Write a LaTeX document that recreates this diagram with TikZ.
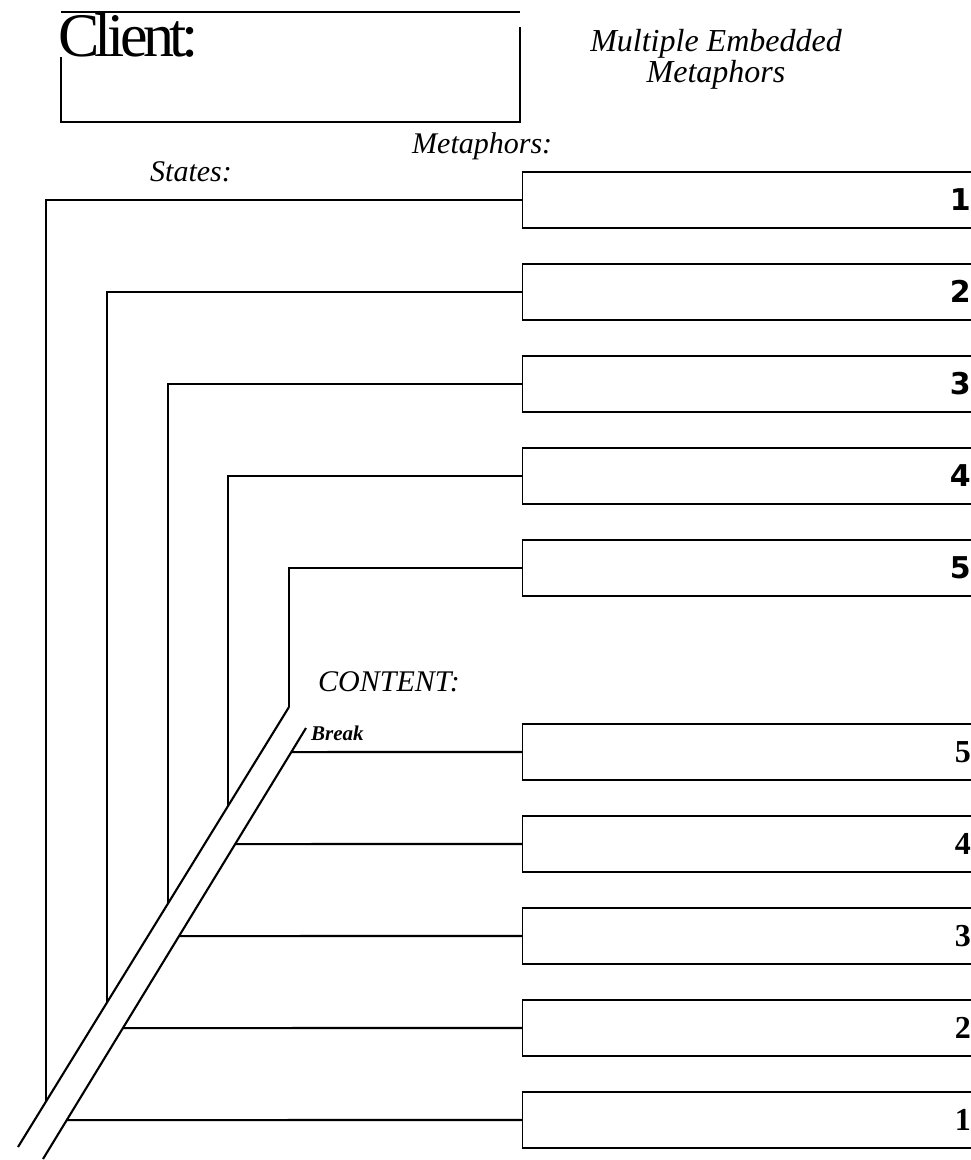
\documentclass[tikz,border=0pt]{standalone}
\usepackage{fontspec}
\setmainfont{Liberation Serif}
\newfontfamily\numsans{DejaVu Sans}
\newfontfamily\clientfont[LetterSpace=-7.5]{Liberation Serif}
\usetikzlibrary{calc}
\begin{document}
\begin{tikzpicture}[x=1pt,y=-1pt,
  mbox/.style={draw,line width=1.4pt,minimum width=470pt,minimum height=56pt,inner sep=0pt,anchor=west},
  conn/.style={line width=2.1pt},
  lbl/.style={inner sep=0pt,anchor=base west,font=\itshape\fontsize{30}{30}\selectfont},
  numup/.style={inner sep=0pt,anchor=base east,font=\numsans\bfseries\fontsize{30}{30}\selectfont},
  numlo/.style={inner sep=0pt,anchor=base east,font=\bfseries\fontsize{32}{32}\selectfont},
  brk/.style={line width=2.1pt}]
\clip (0,0) rectangle (971,1160);
\fill[white] (0,0) rectangle (971,1160);
% client box
\draw[line width=1.8pt] (61,12) -- (520,12);
\draw[line width=1.5pt] (61,57) -- (61,122) -- (520,122) -- (520,27);
\node[inner sep=0pt,anchor=base west,font=\clientfont\fontsize{62}{62}\selectfont] (client) at (58,56) {Client:};
% title
\node[inner sep=0pt,font=\itshape\fontsize{32}{26}\selectfont,align=center,anchor=base] (title) at (716,82) {Multiple Embedded\\Metaphors};
\node[lbl] (metl) at (412,153) {Metaphors:};
\node[lbl] (statl) at (150,181) {States:};
\node[lbl] (contl) at (318,691) {CONTENT:};
\node[inner sep=0pt,anchor=base west,font=\bfseries\itshape\fontsize{21}{21}\selectfont] (breakl) at (311,740) {Break};
% metaphor boxes
\foreach \i/\y in {1/200,2/292,3/384,4/476,5/568}{
  \node[mbox] (m\i) at (522,\y) {};
  \node[numup] (mn\i) at (971,\y+10) {\i};
}
\foreach \i/\y in {1/1120,2/1028,3/936,4/844,5/752}{
  \node[mbox] (c\i) at (522,\y) {};
  \node[numlo] (cn\i) at (971,\y+10) {\i};
}
% break band
\coordinate (lb) at (18,1147);
\coordinate (lt) at (289,707);
\coordinate (rb) at (43,1159);
\coordinate (rt) at (306,728);
\draw[brk] (lb) -- (lt);
\draw[brk] (rb) -- (rt);
% state ends on the left break line
\coordinate (e1) at (intersection of lb--lt and 46,0--46,1200);
\coordinate (e2) at (intersection of lb--lt and 107,0--107,1200);
\coordinate (e3) at (intersection of lb--lt and 168,0--168,1200);
\coordinate (e4) at (intersection of lb--lt and 228,0--228,1200);
\draw[conn] (m1.west) -| (e1);
\draw[conn] (m2.west) -| (e2);
\draw[conn] (m3.west) -| (e3);
\draw[conn] (m4.west) -| (e4);
\draw[conn] (m5.west) -| (lt);
% content starts on the right break line
\coordinate (f1) at (intersection of rb--rt and 0,1120--600,1120);
\coordinate (f2) at (intersection of rb--rt and 0,1028--600,1028);
\coordinate (f3) at (intersection of rb--rt and 0,936--600,936);
\coordinate (f4) at (intersection of rb--rt and 0,844--600,844);
\coordinate (f5) at (intersection of rb--rt and 0,752--600,752);
\draw[conn] (f1) -- (c1.west);
\draw[conn] (f2) -- (c2.west);
\draw[conn] (f3) -- (c3.west);
\draw[conn] (f4) -- (c4.west);
\draw[conn] (f5) -- (c5.west);
\end{tikzpicture}
\end{document}
